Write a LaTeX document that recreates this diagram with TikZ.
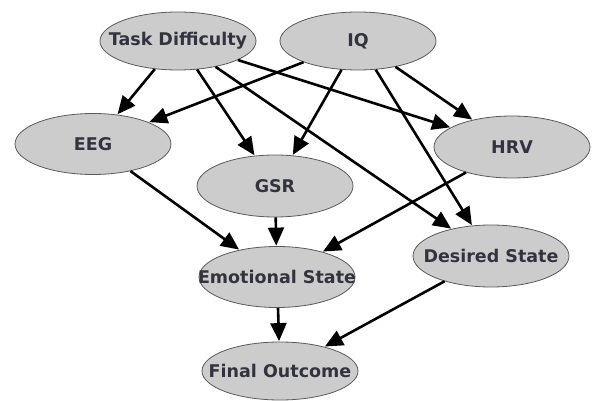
\documentclass[tikz,border=0pt]{standalone}
\usepackage{fontspec}
\setmainfont{DejaVu Sans}
\usetikzlibrary{shapes.geometric,arrows.meta}
\definecolor{nodefill}{HTML}{CCCCCC}
\definecolor{nodeline}{HTML}{5A5A5A}
\definecolor{nodetext}{HTML}{33333F}
\newcommand\vlabel[1]{\makebox[0pt]{#1}}
\tikzset{
  var/.style={ellipse, draw=nodeline, fill=nodefill, line width=0.8pt,
    text=nodetext, font=\bfseries\fontsize{17.5}{19}\selectfont,
    minimum width=156pt, minimum height=60pt, inner sep=0pt},
  link/.style={-{Triangle[length=18pt,width=16pt]}, line width=2.6pt, black, shorten >=0.5pt}
}
\begin{document}
\begin{tikzpicture}[x=1pt,y=-1pt]
\useasboundingbox (0,0) rectangle (595,401);
\node[var, minimum height=58pt] (td) at (178,41) {\vlabel{Task Difficulty}};
\node[var, minimum height=58pt] (iq) at (358,41) {\vlabel{IQ}};
\node[var, minimum height=61pt] (eeg) at (93,144) {\vlabel{EEG}};
\node[var, minimum height=62pt] (gsr) at (275,186) {\vlabel{GSR}};
\node[var, minimum height=62pt] (hrv) at (512,147) {\vlabel{HRV}};
\node[var, minimum height=61pt] (emo) at (277,277) {\vlabel{Emotional State}};
\node[var, minimum height=62pt] (des) at (491,256) {\vlabel{Desired State}};
\node[var, minimum height=58pt] (fin) at (280,371) {\vlabel{Final Outcome}};
\draw[link] (td) -- (eeg);
\draw[link] (td) -- (gsr);
\draw[link] (td) -- (hrv);
\draw[link] (td) -- (des);
\draw[link] (iq) -- (eeg);
\draw[link] (iq) -- (gsr);
\draw[link] (iq) -- (hrv);
\draw[link] (iq) -- (des);
\draw[link] (eeg) -- (emo);
\draw[link] (gsr) -- (emo);
\draw[link] (hrv) -- (emo);
\draw[link] (emo) -- (fin);
\draw[link] (des) -- (fin);
\end{tikzpicture}
\end{document}
